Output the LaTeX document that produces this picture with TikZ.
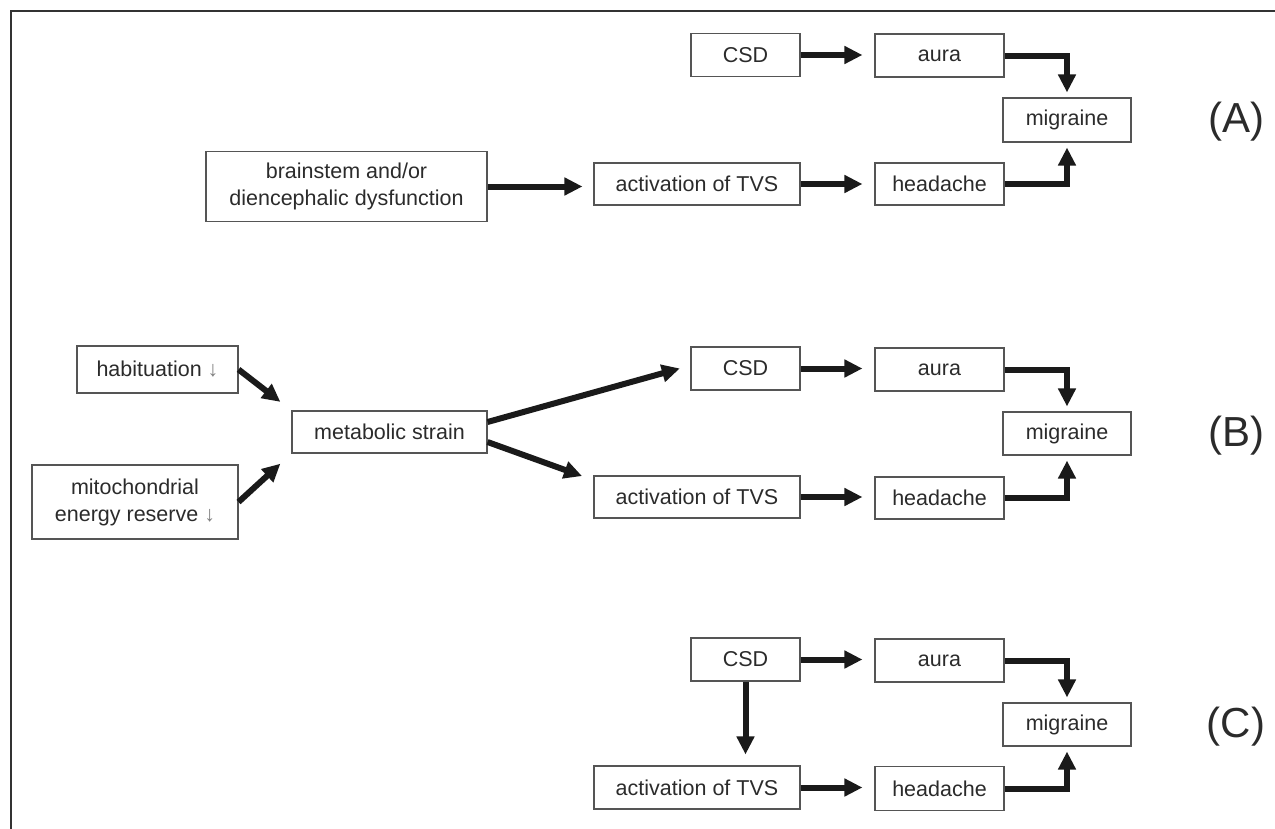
\documentclass[tikz,border=0pt]{standalone}
\usepackage{fontspec}
\setmainfont{Liberation Sans}
\usetikzlibrary{arrows.meta}
\definecolor{txt}{HTML}{2B2B2B}
\definecolor{boxc}{HTML}{555555}
\definecolor{arrc}{HTML}{1A1A1A}
\tikzset{
  box/.style={draw=boxc, line width=1.1pt, rectangle, inner sep=0pt, align=center,
    text=txt, font=\fontsize{21.5}{27}\selectfont},
  arr/.style={draw=arrc, line width=6pt, -{Triangle[length=18pt,width=17pt]}},
  lab/.style={text=txt, font=\fontsize{42}{48}\selectfont, inner sep=0pt}
}
\newcommand{\dnarrow}{{\color{gray}↓}}
\begin{document}
\begin{tikzpicture}[x=1pt,y=-1pt]
\useasboundingbox (0,0) rectangle (1275,828);
\draw[line width=1.6pt, color=black!80] (11,830) -- (11,11) -- (1277,11);

% ---------- (A)
\node[box, minimum width=109pt, minimum height=43pt] (csdA) at (745.5,55) {CSD};
\node[box, minimum width=129pt, minimum height=43pt] (auraA) at (939.5,55.5) {aura};
\node[box, minimum width=128pt, minimum height=44pt] (migA) at (1067,120) {migraine};
\node[box, minimum width=206pt, minimum height=42pt] (tvsA) at (697,184) {activation of TVS};
\node[box, minimum width=129pt, minimum height=42pt] (headA) at (939.5,184) {headache};
\node[box, minimum width=281pt, minimum height=70pt] (brainA) at (346.5,186.5) {brainstem and/or\\diencephalic dysfunction};
\node[lab] (labA) at (1236,122) {(A)};

\draw[arr, shorten >=11pt] (brainA.east) -- (brainA.east -| tvsA.west);
\draw[arr, shorten >=12pt] (csdA.east) -- (csdA.east -| auraA.west);
\draw[arr, shorten >=12pt] (tvsA.east) -- (tvsA.east -| headA.west);
\draw[arr, shorten >=5pt] (auraA.east) -| (migA.north);
\draw[arr, shorten >=5pt] (headA.east) -| (migA.south);

% ---------- (B)
\node[box, minimum width=161pt, minimum height=47pt] (habB) at (157.5,369.5) {habituation \dnarrow};
\node[box, minimum width=206pt, minimum height=74pt] (mitoB) at (135,502) {mitochondrial\\energy reserve \dnarrow};
\node[box, minimum width=195pt, minimum height=42pt] (metB) at (389.5,432) {metabolic strain};
\node[box, minimum width=109pt, minimum height=43pt] (csdB) at (745.5,368.5) {CSD};
\node[box, minimum width=129pt, minimum height=43pt] (auraB) at (939.5,369.5) {aura};
\node[box, minimum width=128pt, minimum height=43pt] (migB) at (1067,433.5) {migraine};
\node[box, minimum width=206pt, minimum height=42pt] (tvsB) at (697,497) {activation of TVS};
\node[box, minimum width=129pt, minimum height=42pt] (headB) at (939.5,498) {headache};
\node[lab] (labB) at (1236,436) {(B)};

\draw[arr, shorten >=14pt] (habB.east) -- (metB.north west);
\draw[arr, shorten >=15pt] (mitoB.east) -- (metB.south west);
\draw[arr, shorten >=11pt] ([yshift=10pt]metB.east) -- ([yshift=3pt]csdB.west);
\draw[arr, shorten >=10pt] ([yshift=-10pt]metB.east) -- ([xshift=-2pt,yshift=-4pt]tvsB.north west);
\draw[arr, shorten >=12pt] (csdB.east) -- (csdB.east -| auraB.west);
\draw[arr, shorten >=12pt] (tvsB.east) -- (tvsB.east -| headB.west);
\draw[arr, shorten >=5pt] (auraB.east) -| (migB.north);
\draw[arr, shorten >=5pt] (headB.east) -| (migB.south);

% ---------- (C)
\node[box, minimum width=109pt, minimum height=43pt] (csdC) at (745.5,659.5) {CSD};
\node[box, minimum width=129pt, minimum height=43pt] (auraC) at (939.5,660.5) {aura};
\node[box, minimum width=128pt, minimum height=43pt] (migC) at (1067,724.5) {migraine};
\node[box, minimum width=206pt, minimum height=43pt] (tvsC) at (697,787.5) {activation of TVS};
\node[box, minimum width=129pt, minimum height=44pt] (headC) at (939.5,788.5) {headache};
\node[lab] (labC) at (1236,727) {(C)};

\draw[arr, shorten >=12pt] (csdC.east) -- (csdC.east -| auraC.west);
\draw[arr, shorten >=12pt] (tvsC.east) -- (tvsC.east -| headC.west);
\draw[arr, shorten >=11pt] (csdC.south) -- (csdC.south |- tvsC.north);
\draw[arr, shorten >=5pt] (auraC.east) -| (migC.north);
\draw[arr, shorten >=5pt] (headC.east) -| (migC.south);
\end{tikzpicture}
\end{document}
